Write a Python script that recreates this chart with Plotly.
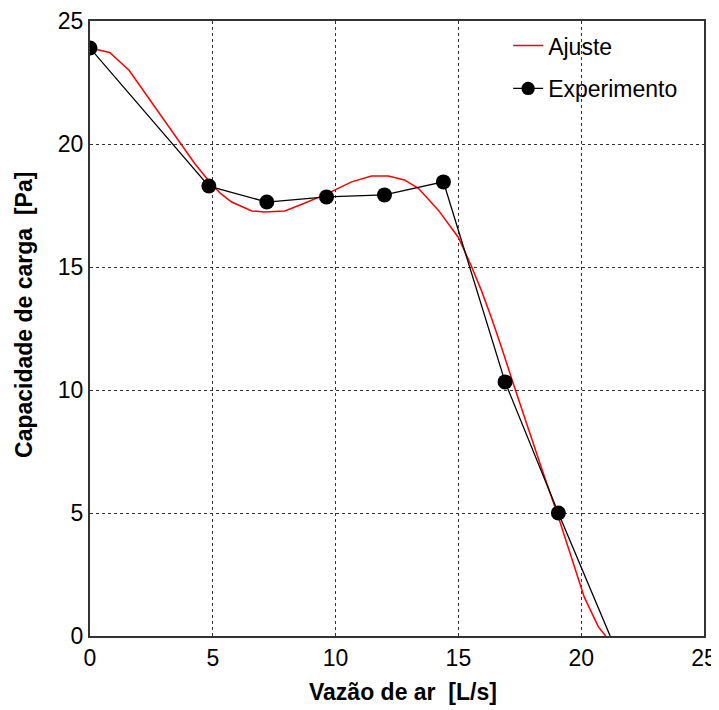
import plotly.graph_objects as go

# Experimental data
exp_x = [0.0, 4.84, 7.2, 9.63, 11.99, 14.39, 16.9, 19.07, 21.18]
exp_y = [23.9, 18.29, 17.64, 17.85, 17.93, 18.46, 10.33, 5.0, 0.0]

# Fitted curve
fit_x = [0.0, 0.8, 1.59, 2.24, 2.93, 3.6, 4.27, 4.84, 5.3, 5.77, 6.59, 7.1, 7.93, 8.5,
         9.55, 10.65, 11.46, 12.15, 12.8, 13.37, 14.19, 15.0, 15.5, 15.93, 16.34, 16.75,
         17.28, 18.37, 19.07, 19.6, 20.12, 20.7, 21.0]
fit_y = [23.9, 23.72, 23.0, 22.07, 21.1, 20.16, 19.2, 18.5, 18.0, 17.64, 17.28, 17.24,
         17.28, 17.5, 17.93, 18.46, 18.7, 18.7, 18.54, 18.2, 17.3, 16.2, 15.1, 14.06, 12.95,
         11.75, 10.12, 6.87, 4.84, 3.2, 1.59, 0.37, 0.0]

x_ticks = [0, 5, 10, 15, 20, 25]
y_ticks = [0, 5, 10, 15, 20, 25]

x_title = "<b>Vazão de ar  [L/s]</b>"
y_title = "<b>Capacidade de carga  [Pa]</b>"

font = "Liberation Sans, Arial, sans-serif"

fig = go.Figure()
fig.add_trace(go.Scatter(x=fit_x, y=fit_y, mode="lines", name="Ajuste",
                         legendgroup="a",
                         line=dict(color="#ff0000", width=1.5)))
fig.add_trace(go.Scatter(x=exp_x, y=exp_y, mode="lines+markers", name="Experimento",
                         legendgroup="b",
                         line=dict(color="#000000", width=1.3),
                         marker=dict(color="#000000", size=[15] * 8 + [0],
                                     line=dict(width=0), opacity=1)))

axis_common = dict(
    showgrid=True, gridcolor="#333333", griddash="dot", gridwidth=1,
    showline=True, linecolor="#333333", linewidth=2, mirror=True,
    ticks="", zeroline=False, automargin=False,
    tickfont=dict(family=font, size=23, color="#000000"),
)

fig.update_layout(
    width=711, height=702,
    margin=dict(l=82, r=15, t=13, b=74),
    paper_bgcolor="white", plot_bgcolor="white",
    font=dict(family=font, color="#000000"),
    xaxis=dict(range=[0, 25], tickvals=x_ticks, **axis_common),
    yaxis=dict(range=[0, 25], tickvals=y_ticks, **axis_common),
    legend=dict(x=0.681, y=0.995, xanchor="left", yanchor="top",
                bgcolor="rgba(255,255,255,0)", borderwidth=0,
                font=dict(family=font, size=23, color="#000000"),
                tracegroupgap=10),
    showlegend=True,
    annotations=[
        dict(text=x_title, xref="paper", yref="paper", x=0.51, y=-0.091,
             xanchor="center", yanchor="middle", showarrow=False,
             font=dict(family=font, size=23, color="#000000")),
        dict(text=y_title, xref="paper", yref="paper", x=-0.1075, y=0.522,
             xanchor="center", yanchor="middle", showarrow=False, textangle=-90,
             font=dict(family=font, size=23, color="#000000")),
    ],
)

fig.write_html("out.html")
